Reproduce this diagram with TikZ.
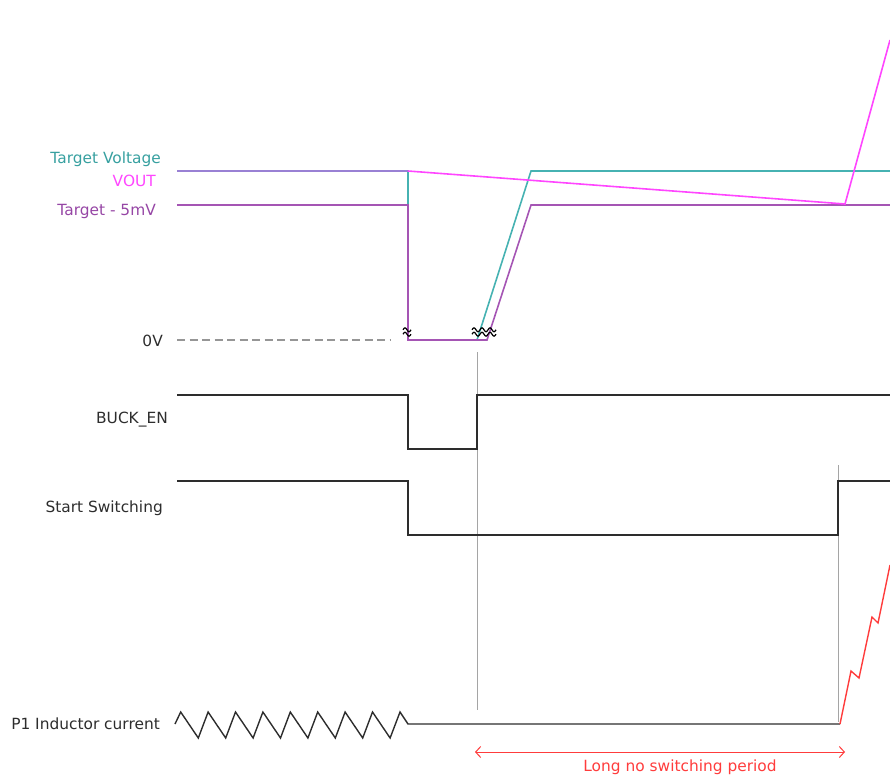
\documentclass[tikz,border=0pt]{standalone}
\usepackage{fontspec}
\setmainfont{DejaVu Sans}
\usetikzlibrary{arrows.meta}
\definecolor{tealw}{RGB}{70,178,178}
\definecolor{tealt}{RGB}{55,160,160}
\definecolor{magw}{RGB}{255,70,255}
\definecolor{purw}{RGB}{165,85,180}
\definecolor{purt}{RGB}{150,70,165}
\definecolor{sigc}{RGB}{45,45,45}
\definecolor{redw}{RGB}{255,60,60}
\definecolor{guidec}{RGB}{165,165,165}
\definecolor{dashc}{RGB}{150,150,150}
\newcommand\brkmark[2]{%
  \draw[line width=1.2pt, black] (#1-4,#2-2.2) sin (#1-2,#2-4.2) cos (#1,#2-2.2) sin (#1+2,#2-0.2) cos (#1+4,#2-2.2);
  \draw[line width=1.2pt, black] (#1-4,#2+2.2) sin (#1-2,#2+0.2) cos (#1,#2+2.2) sin (#1+2,#2+4.2) cos (#1+4,#2+2.2);}
\begin{document}
\begin{tikzpicture}[x=1pt,y=-1pt,
  lbl/.style={anchor=east, inner sep=0pt, font=\fontsize{15.4}{17}\selectfont, text=sigc},
  wv/.style={line width=1.6pt, line join=miter},
  sigline/.style={wv, draw=sigc},
  guide/.style={line width=0.8pt, draw=guidec}]
\useasboundingbox (0,0) rectangle (890,776);
% labels
\node[lbl, text=tealt] (ltv) at (161,159) {Target Voltage};
\node[lbl, text=magw] (lvo) at (156,181) {VOUT};
\node[lbl, text=purt] (lt5) at (156,211) {Target - 5mV};
\node[lbl] (l0v) at (163,341) {0V};
\node[lbl] (lbe) at (168,420) {BUCK\_EN};
\node[lbl] (lss) at (163,508) {Start Switching};
\node[lbl] (lic) at (160,724) {P1 Inductor current};
% 0V dashed reference
\draw[line width=1.5pt, draw=dashc, dash pattern=on 8pt off 4.5pt] (177,340) -- (390,340);
% guides
\coordinate (g1a) at (477,352); \coordinate (g1b) at (477,710);
\coordinate (g2a) at (838,465); \coordinate (g2b) at (838,722);
\draw[guide] (g1a) -- (g1b);
\draw[guide] (g2a) -- (g2b);
% target voltage (teal)
\draw[wv, draw=tealw] (177,171) -- (408,171) -- (408,340) -- (477,340) -- (531,171) -- (890,171);
% target - 5mV (purple)
\draw[wv, draw=purw] (177,205) -- (408,205) -- (408,340) -- (487,340) -- (531,205) -- (890,205);
% VOUT (magenta)
\draw[wv, draw=magw, opacity=0.45] (177,171) -- (408,171);
\draw[wv, draw=magw] (408,171) -- (845,204) -- (890,40);
% break marks
\brkmark{407}{332}
\brkmark{476}{332}
\brkmark{484}{332}
\brkmark{492}{332}
% BUCK_EN
\draw[sigline] (177,395) -- (408,395) -- (408,449) -- (477,449) -- (477,395) -- (890,395);
% Start Switching
\draw[sigline] (177,481) -- (408,481) -- (408,535) -- (838,535) -- (838,481) -- (890,481);
% inductor current
\draw[sigline, line width=1.4pt] (175,724) \foreach \k in {0,...,7} { -- ({180.7+27.4*\k},712) -- ({198.3+27.4*\k},738) } -- (400,712) -- (408,724) -- (840,724);
\draw[wv, draw=redw, line width=1.4pt] (840,724) -- (851,671) -- (859,678) -- (872,617) -- (878,623) -- (890,565);
% long no switching period
\coordinate (pa) at (475,752); \coordinate (pb) at (845,752);
\draw[draw=redw, line width=1pt, {Straight Barb[length=5pt,width=11pt]}-{Straight Barb[length=5pt,width=11pt]}] (pa) -- (pb);
\node[inner sep=0pt, font=\fontsize{15.4}{17}\selectfont, text=redw] (lnp) at (680,767) {Long no switching period};
\end{tikzpicture}
\end{document}
